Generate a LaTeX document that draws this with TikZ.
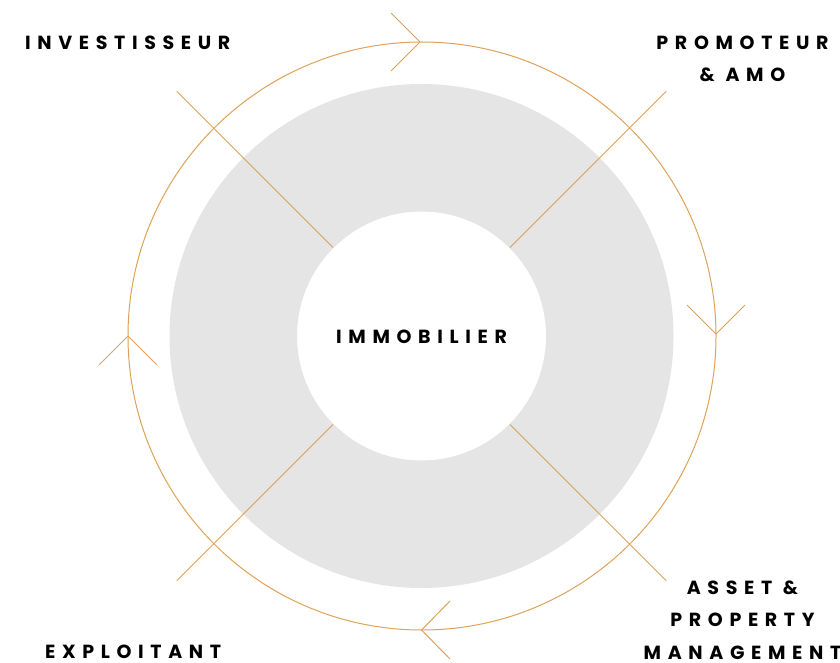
\documentclass[tikz,border=0pt]{standalone}
\usepackage{fontspec}
\usetikzlibrary{calc}
\newfontfamily\labfont[LetterSpace=35]{Poppins}
\definecolor{gold}{RGB}{222,162,88}
\definecolor{concrete}{RGB}{229,229,229}
\begin{document}
\begin{tikzpicture}[x=1pt,y=-1pt,
  lab/.style={font=\labfont\bfseries\fontsize{19}{32.5}\selectfont, text=black, inner sep=0pt, align=center},
  goldline/.style={draw=gold, line width=1pt}]
\useasboundingbox (0,0) rectangle (840,663);
\coordinate (c) at (421.5,336);
\fill[concrete, even odd rule] (c) circle[radius=252] (c) circle[radius=124.5];
\draw[goldline] (422,336) circle[radius=294];
% chevrons
\coordinate (t1) at (391,13); \coordinate (t0) at (420,42); \coordinate (t2) at (391,71);
\draw[goldline] (t1) -- (t0) -- (t2);
\coordinate (r1) at (687,305); \coordinate (r0) at (716,334); \coordinate (r2) at (745,305);
\draw[goldline] (r1) -- (r0) -- (r2);
\coordinate (b1) at (450,601); \coordinate (b0) at (421.5,630); \coordinate (b2) at (450,659);
\draw[goldline] (b1) -- (b0) -- (b2);
\coordinate (l1) at (99,365); \coordinate (l0) at (128,336); \coordinate (l2) at (157,365);
\draw[goldline] (l1) -- (l0) -- (l2);
% radial lines
\foreach \a/\n in {135/ul,45/ur,225/ll,315/lr}{
  \coordinate (\n i) at ($(c)+(\a:125)$);
  \coordinate (\n o) at ($(c)+(\a:346)$);
  \draw[goldline] (\n i) -- (\n o);
}
% labels
\node[lab, anchor=west] (inv) at (25,43) {INVESTISSEUR};
\node[lab] (prom) at (742.5,59) {PROMOTEUR\\\& AMO};
\node[lab] (asset) at (742.5,620) {ASSET \&\\PROPERTY\\MANAGEMENT};
\node[lab, anchor=west] (expl) at (45,651.5) {EXPLOITANT};
\node[lab, anchor=west] (immo) at (336,337) {IMMOBILIER};
\end{tikzpicture}
\end{document}
